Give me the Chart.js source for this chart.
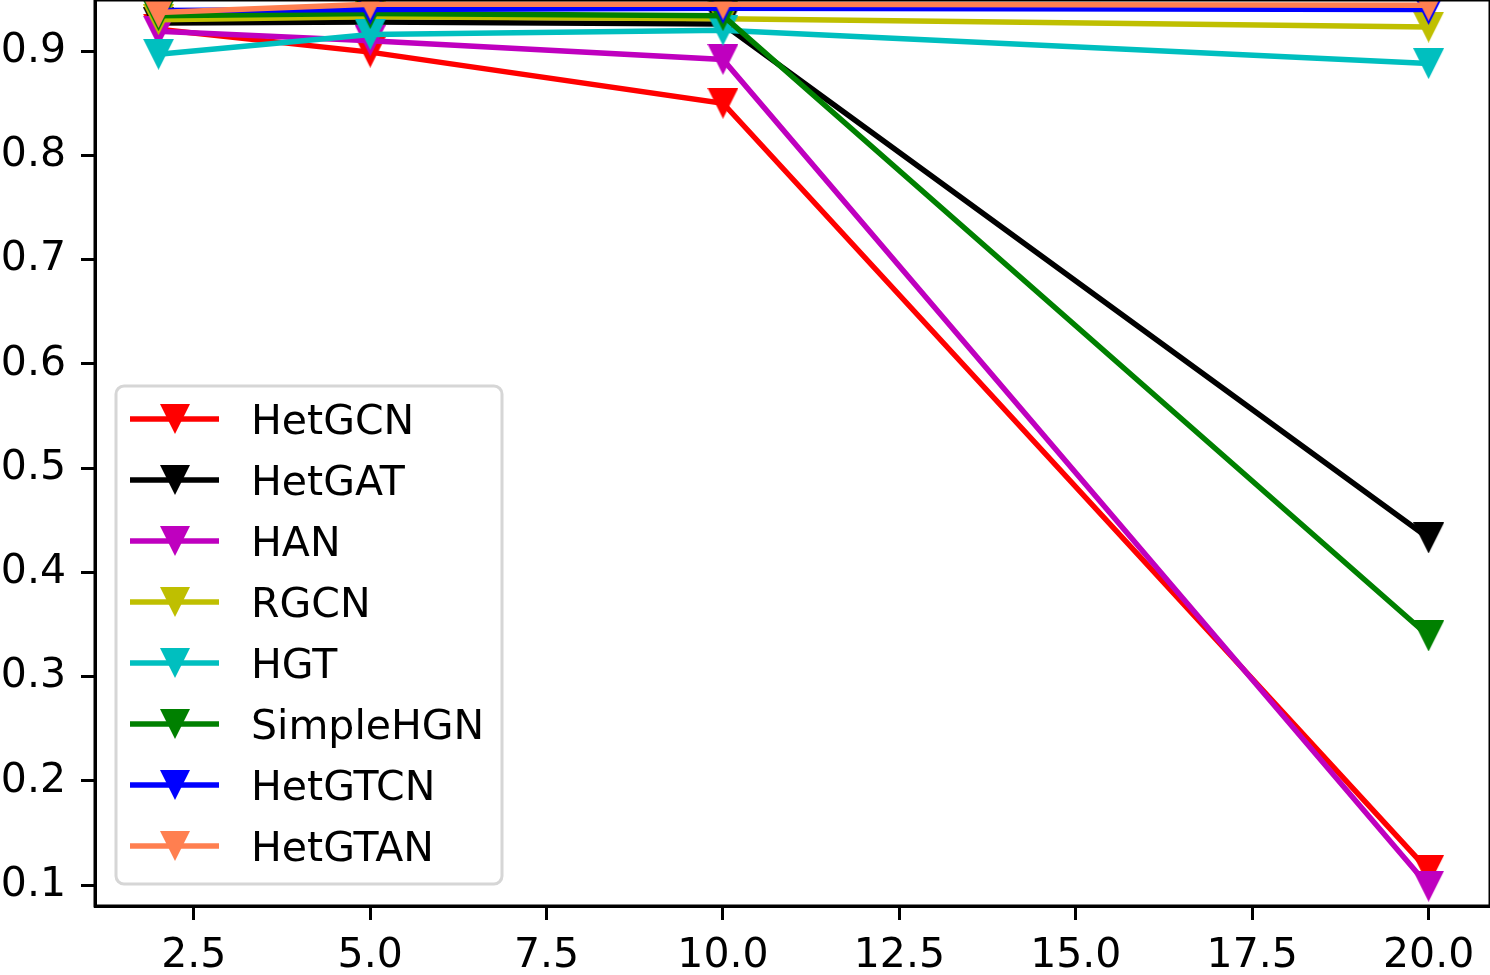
<!DOCTYPE html>
<html>
<head>
<meta charset="utf-8">
<script src="https://cdn.jsdelivr.net/npm/chart.js@4"></script>
<style>
  body { margin: 0; background: #fff; }
</style>
</head>
<body>
<canvas id="chart" width="1490" height="975"></canvas>
<script>
'use strict'
let xs = [2, 5, 10, 20],
    names = ['HetGCN', 'HetGAT', 'HAN', 'RGCN', 'HGT', 'SimpleHGN', 'HetGTCN', 'HetGTAN'],
    colors = ['#ff0000', '#000000', '#bf00bf', '#bfbf00', '#00bfbf', '#008000', '#0000ff', '#ff7f50'],
    hetgcn = [0.921, 0.899, 0.850, 0.114],
    hetgat = [0.927, 0.928, 0.926, 0.433],
    han = [0.919, 0.910, 0.892, 0.099],
    rgcn = [0.930, 0.933, 0.931, 0.923],
    hgt = [0.897, 0.916, 0.920, 0.888],
    simplehgn = [0.934, 0.936, 0.934, 0.339],
    hetgtcn = [0.939, 0.940, 0.941, 0.940],
    hetgtan = [0.937, 0.945, 0.945, 0.944],
    xTicks = [2.5, 5.0, 7.5, 10.0, 12.5, 15.0, 17.5, 20.0],
    yTicks = [0.1, 0.2, 0.3, 0.4, 0.5, 0.6, 0.7, 0.8, 0.9]

let series = [hetgcn, hetgat, han, rgcn, hgt, simplehgn, hetgtcn, hetgtan]
let font = {family: 'DejaVu Sans', size: 41}

// matplotlib style 'v' marker
let marker = function (color, size) {
    let c = document.createElement('canvas')
    c.width = size
    c.height = size
    let g = c.getContext('2d')
    g.fillStyle = color
    g.beginPath()
    g.moveTo(0, 0)
    g.lineTo(size, 0)
    g.lineTo(size / 2, size)
    g.closePath()
    g.fill()
    return c
}

let frame = {
    id: 'frame',
    afterDatasetsDraw(chart) {
        let a = chart.chartArea, ctx = chart.ctx
        ctx.save()
        ctx.strokeStyle = '#000'
        ctx.lineWidth = 3
        ctx.strokeRect(a.left, a.top, a.right - a.left, a.bottom - a.top)

        // legend box
        let bx = 116, by = 386, bw = 386, bh = 498
        ctx.beginPath()
        ctx.roundRect(bx, by, bw, bh, 8)
        ctx.fillStyle = 'rgba(255,255,255,0.8)'
        ctx.fill()
        ctx.strokeStyle = '#d6d6d6'
        ctx.lineWidth = 3
        ctx.stroke()

        ctx.font = '41px "DejaVu Sans"'
        ctx.textBaseline = 'alphabetic'
        names.forEach((n, i) => {
            let y = 419 + i * 61
            ctx.strokeStyle = colors[i]
            ctx.lineWidth = 5.5
            ctx.beginPath()
            ctx.moveTo(130, y)
            ctx.lineTo(219, y)
            ctx.stroke()
            let m = marker(colors[i], 30)
            ctx.drawImage(m, 175 - 15, y - 15)
            ctx.fillStyle = '#000'
            ctx.fillText(n, 251, y + 14.5)
        })
        ctx.restore()
    }
}

let data = {
    datasets: names.map((n, i) => ({
        label: n,
        data: xs.map((x, j) => ({x: x, y: series[i][j]})),
        borderColor: colors[i],
        backgroundColor: colors[i],
        borderWidth: 5.5,
        pointStyle: marker(colors[i], 31),
        pointRadius: 16,
        order: names.length - i
    }))
}

let config = {
    type: 'line',
    data: data,
    plugins: [frame],
    options: {
        responsive: false,
        animation: false,
        layout: {padding: 0, autoPadding: false},
        plugins: {legend: {display: false}, tooltip: {enabled: false}},
        scales: {
            x: {
                type: 'linear',
                min: 1.1,
                max: 20.87,
                afterBuildTicks: s => { s.ticks = xTicks.map(v => ({value: v})) },
                afterFit: s => { s.height = 69; s.paddingLeft = 0; s.paddingRight = 0 },
                ticks: {
                    font: font,
                    color: '#000',
                    padding: 12,
                    maxRotation: 0,
                    autoSkip: false,
                    callback: v => v.toFixed(1)
                },
                grid: {drawOnChartArea: false, tickLength: 14, tickWidth: 3, tickColor: '#000'},
                border: {color: '#000', width: 3}
            },
            y: {
                type: 'linear',
                min: 0.08,
                max: 0.949,
                afterBuildTicks: s => { s.ticks = yTicks.map(v => ({value: v})) },
                afterFit: s => { s.width = 95; s.paddingTop = 0; s.paddingBottom = 0 },
                ticks: {
                    font: font,
                    color: '#000',
                    padding: 15,
                    autoSkip: false,
                    callback: v => v.toFixed(1)
                },
                grid: {drawOnChartArea: false, tickLength: 14, tickWidth: 3, tickColor: '#000'},
                border: {color: '#000', width: 3}
            }
        }
    }
}

let myChart = new Chart(document.getElementById('chart'), config)
</script>
</body>
</html>
